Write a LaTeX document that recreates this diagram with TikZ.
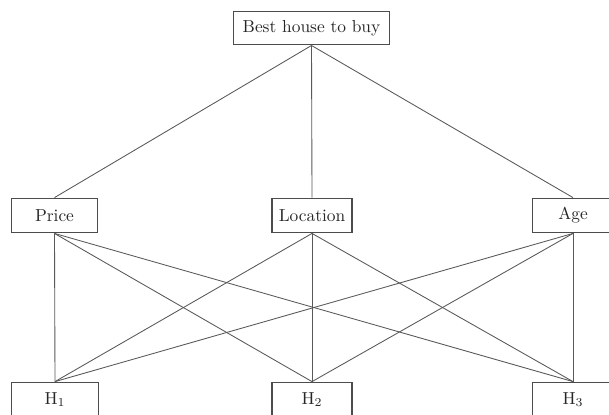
\documentclass[tikz,border=0pt]{standalone}
\begin{document}
\begin{tikzpicture}[x=0.575pt,y=-0.575pt,
  box/.style={draw=black!70, line width=0.6pt, rectangle, inner sep=0pt, minimum height=20pt, font=\normalsize, text=black!85},
  link/.style={draw=black!65, line width=0.5pt}]
\clip (0,0) rectangle (609,414);
\useasboundingbox (0,0) rectangle (609,414);
\node[box, minimum width=90pt, minimum height=19.5pt] (goal) at (311.5,28) {Best house to buy};
\node[box, minimum width=49.5pt] (price) at (54.5,215.5) {Price};
\node[box, minimum width=46pt] (loc) at (312,215.5) {Location};
\node[box, minimum width=47pt] (age) at (573,215.5) {Age};
\node[box, minimum width=49.5pt] (h1) at (55,399.5) {H$_1$};
\node[box, minimum width=46pt] (h2) at (312,399.5) {H$_2$};
\node[box, minimum width=47pt] (h3) at (573,399.5) {H$_3$};
\draw[link] (goal.south) -- (price.north);
\draw[link] (goal.south) -- (loc.north);
\draw[link] (goal.south) -- (age.north);
\foreach \c in {price,loc,age}{
  \foreach \h in {h1,h2,h3}{
    \draw[link] (\c.south) -- (\h.north);
  }
}
\end{tikzpicture}
\end{document}
